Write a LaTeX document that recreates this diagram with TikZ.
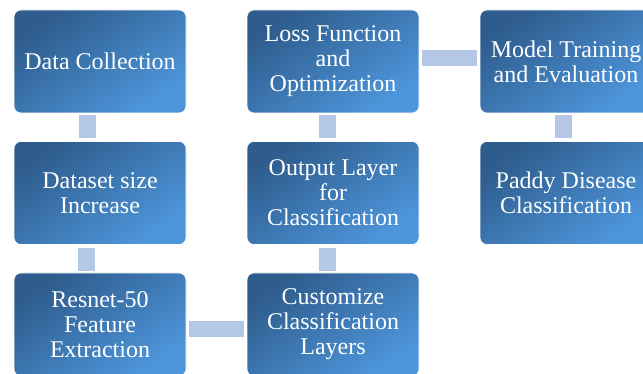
\documentclass[tikz,border=0pt]{standalone}
\usepackage{fontspec}
\setmainfont{Liberation Serif}
\definecolor{boxdark}{RGB}{46,92,140}
\definecolor{boxlight}{RGB}{78,150,220}
\definecolor{connc}{RGB}{180,199,231}
\begin{document}
\begin{tikzpicture}[x=1pt,y=1pt,
  stagebox/.style={rounded corners=7pt, minimum width=172pt, minimum height=103pt,
    inner sep=0pt, top color=boxdark, bottom color=boxlight, shading angle=35,
    draw=white, line width=0.6pt, text=white, align=center,
    font=\fontsize{24}{25}\selectfont},
  conn/.style={connc, line width=17pt}]
\useasboundingbox (0,0) rectangle (643,374);
\clip (0,0) rectangle (643,374);
\node[stagebox] (A) at (100,312.5) {Data Collection};
\node[stagebox] (B) at (100,181) {Dataset size\\Increase};
\node[stagebox] (C) at (100,49.5) {Resnet-50\\Feature\\Extraction};
\node[stagebox] (D) at (333,49.5) {Customize\\Classification\\Layers};
\node[stagebox] (E) at (333,181) {Output Layer\\for\\Classification};
\node[stagebox] (F) at (333,312.5) {Loss Function\\and\\Optimization};
\node[stagebox] (G) at (566,312.5) {Model Training\\and Evaluation};
\node[stagebox] (H) at (566,181) {Paddy Disease\\Classification};
\draw[conn] ([xshift=-12.5pt,yshift=-2pt]A.south) -- ([xshift=-12.5pt,yshift=3pt]B.north);
\draw[conn] ([xshift=-13.5pt,yshift=-3pt]B.south) -- ([xshift=-13.5pt,yshift=2pt]C.north);
\draw[conn,line width=16pt] ([xshift=3pt,yshift=-4.5pt]C.east) -- ([xshift=-3pt,yshift=-4.5pt]D.west);
\draw[conn] ([xshift=-5.5pt,yshift=2pt]D.north) -- ([xshift=-5.5pt,yshift=-3pt]E.south);
\draw[conn] ([xshift=-5.5pt,yshift=3pt]E.north) -- ([xshift=-5.5pt,yshift=-2pt]F.south);
\draw[conn,line width=16pt] ([xshift=3pt,yshift=3.5pt]F.east) -- ([xshift=-3pt,yshift=3.5pt]G.west);
\draw[conn] ([xshift=-2.5pt,yshift=-2pt]G.south) -- ([xshift=-2.5pt,yshift=3pt]H.north);
\end{tikzpicture}
\end{document}
